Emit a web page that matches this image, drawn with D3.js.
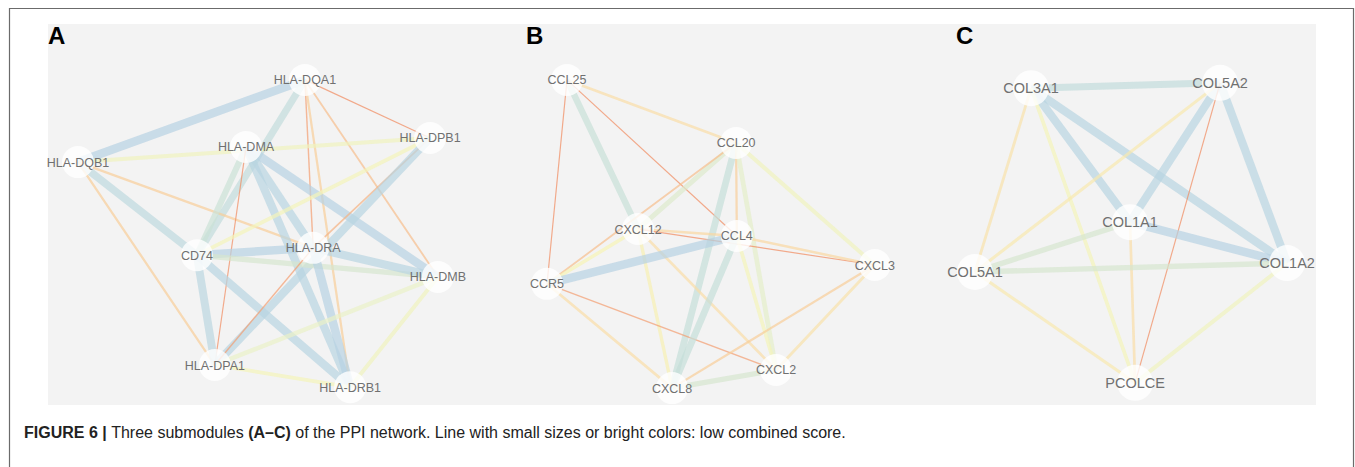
<!DOCTYPE html>
<html>
<head>
<meta charset="utf-8">
<script src="https://cdn.jsdelivr.net/npm/d3@7"></script>
<style>
  body { margin: 0; background: #fff; }
  svg { display: block; font-family: "Liberation Sans", Arial, sans-serif; }
</style>
</head>
<body>
<svg id="fig" width="1355" height="467"></svg>
<script>
// layout positions are in panel units (0-100), scores are STRING combined scores
var nodesA = [
    ["HLA-DQA1", 62.8, 3.0], ["HLA-DPB1", 94.9, 20.6], ["HLA-DQB1", 4.6, 27.9],
    ["HLA-DMA", 47.7, 23.3], ["CD74", 35.1, 56.1], ["HLA-DRA", 64.9, 53.9],
    ["HLA-DMB", 96.9, 62.7], ["HLA-DPA1", 39.7, 89.4], ["HLA-DRB1", 74.4, 96.1]
]
var edgesA = [
    ["HLA-DQA1", "HLA-DQB1", 0.999], ["HLA-DQA1", "CD74", 0.95], ["HLA-DQA1", "HLA-DPB1", 0.42],
    ["HLA-DQA1", "HLA-DRA", 0.45], ["HLA-DQA1", "HLA-DRB1", 0.55], ["HLA-DQA1", "HLA-DMB", 0.5],
    ["HLA-DQB1", "HLA-DPB1", 0.75], ["HLA-DQB1", "CD74", 0.97], ["HLA-DQB1", "HLA-DRA", 0.55],
    ["HLA-DQB1", "HLA-DPA1", 0.55], ["HLA-DMA", "CD74", 0.92], ["HLA-DMA", "HLA-DRA", 0.99],
    ["HLA-DMA", "HLA-DRB1", 0.99], ["HLA-DMA", "HLA-DMB", 0.999], ["HLA-DMA", "HLA-DPA1", 0.42],
    ["HLA-DPB1", "CD74", 0.72], ["HLA-DPB1", "HLA-DRA", 0.48], ["HLA-DPB1", "HLA-DPA1", 0.99],
    ["CD74", "HLA-DRA", 0.999], ["CD74", "HLA-DMB", 0.88], ["CD74", "HLA-DPA1", 0.98],
    ["CD74", "HLA-DRB1", 0.99], ["HLA-DRA", "HLA-DMB", 0.99], ["HLA-DRA", "HLA-DRB1", 0.999],
    ["HLA-DRA", "HLA-DPA1", 0.45], ["HLA-DMB", "HLA-DPA1", 0.8], ["HLA-DMB", "HLA-DRB1", 0.75],
    ["HLA-DPA1", "HLA-DRB1", 0.72]
]

var nodesB = [
    ["CCL25", 10.0, 3.0], ["CCL20", 55.7, 22.1], ["CXCL12", 29.2, 48.2], ["CCL4", 55.9, 50.3],
    ["CXCL3", 93.2, 59.1], ["CCR5", 4.6, 64.8], ["CXCL2", 66.5, 90.9], ["CXCL8", 38.4, 96.4]
]
var edgesB = [
    ["CCL25", "CCL20", 0.6], ["CCL25", "CXCL12", 0.93], ["CCL25", "CCL4", 0.42], ["CCL25", "CCR5", 0.42],
    ["CCL20", "CXCL12", 0.85], ["CCL20", "CCR5", 0.5], ["CCL20", "CXCL8", 0.94], ["CCL20", "CCL4", 0.55],
    ["CCL20", "CXCL2", 0.82], ["CCL20", "CXCL3", 0.75], ["CXCL12", "CCL4", 0.58], ["CXCL12", "CXCL3", 0.42],
    ["CXCL12", "CCR5", 0.7], ["CXCL12", "CXCL8", 0.68], ["CXCL12", "CXCL2", 0.6], ["CCR5", "CCL4", 0.999],
    ["CCR5", "CXCL8", 0.6], ["CCR5", "CXCL2", 0.45], ["CCL4", "CXCL3", 0.58], ["CCL4", "CXCL8", 0.94],
    ["CCL4", "CXCL2", 0.72], ["CXCL3", "CXCL8", 0.55], ["CXCL3", "CXCL2", 0.62], ["CXCL2", "CXCL8", 0.88]
]

var nodesC = [
    ["COL3A1", 20.9, 5.5], ["COL5A2", 76.5, 3.9], ["COL1A1", 50.0, 46.1],
    ["COL1A2", 96.2, 58.5], ["COL5A1", 4.4, 61.2], ["PCOLCE", 51.5, 94.8]
]
var edgesC = [
    ["COL3A1", "COL5A2", 0.95], ["COL3A1", "COL1A1", 0.99], ["COL3A1", "COL1A2", 0.99],
    ["COL3A1", "COL5A1", 0.62], ["COL3A1", "PCOLCE", 0.72], ["COL5A2", "COL1A1", 0.99],
    ["COL5A2", "COL1A2", 0.99], ["COL5A2", "COL5A1", 0.65], ["COL5A2", "PCOLCE", 0.42],
    ["COL1A1", "COL1A2", 0.999], ["COL1A1", "COL5A1", 0.88], ["COL1A1", "PCOLCE", 0.6],
    ["COL1A2", "COL5A1", 0.88], ["COL1A2", "PCOLCE", 0.75], ["COL5A1", "PCOLCE", 0.65]
]

var panelLetters = ["A", "B", "C"]
var caption = [
    ["FIGURE 6 | ", true], ["Three submodules ", false], ["(A–C)", true],
    [" of the PPI network. Line with small sizes or bright colors: low combined score.", false]
]

var svg = d3.select("#fig")

// outer frame (open at the bottom)
svg.append("path")
    .attr("d", "M9.5,467 V8.5 H1353.5 V467")
    .attr("fill", "none")
    .attr("stroke", "#6b6b6b")
    .attr("stroke-width", 1.2)

svg.append("rect")
    .attr("x", 48).attr("y", 24)
    .attr("width", 1268).attr("height", 381)
    .attr("fill", "#f3f3f3")

var colorScale = d3.scaleLinear()
    .domain([0.4, 0.5, 0.6, 0.7, 0.8, 0.88, 0.94, 1.0])
    .range(["#ef7c52", "#f7bd8b", "#f9dda7", "#f6f3b5", "#e9f1c7", "#d5e6cf", "#c4ded9", "#b6d2e3"])
var widthScale = d3.scaleLinear()
    .domain([0.4, 0.7, 0.9, 1.0])
    .range([1, 3.5, 5.5, 8.5])

var panels = [
    { nodes: nodesA, edges: edgesA, x: [60, 450], y: [70, 400], r: 16, font: 12.5, letterX: 48 },
    { nodes: nodesB, edges: edgesB, x: [530, 900], y: [70, 400], r: 16, font: 12.5, letterX: 526 },
    { nodes: nodesC, edges: edgesC, x: [960, 1300], y: [70, 400], r: 18, font: 14.5, letterX: 956 }
]

panels.forEach(function (p, i) {
    var xScale = d3.scaleLinear().domain([0, 100]).range(p.x)
    var yScale = d3.scaleLinear().domain([0, 100]).range(p.y)
    var pos = new Map(p.nodes.map(d => [d[0], d]))
    var g = svg.append("g")

    g.selectAll("line")
        .data(p.edges)
        .enter()
        .append("line")
        .attr("x1", d => xScale(pos.get(d[0])[1]))
        .attr("y1", d => yScale(pos.get(d[0])[2]))
        .attr("x2", d => xScale(pos.get(d[1])[1]))
        .attr("y2", d => yScale(pos.get(d[1])[2]))
        .attr("stroke", d => colorScale(d[2]))
        .attr("stroke-width", d => widthScale(d[2]))
        .attr("stroke-opacity", 0.7)

    g.selectAll("circle")
        .data(p.nodes)
        .enter()
        .append("circle")
        .attr("cx", d => xScale(d[1]))
        .attr("cy", d => yScale(d[2]))
        .attr("r", p.r)
        .attr("fill", "#ffffff")
        .attr("fill-opacity", 0.8)

    g.selectAll("text")
        .data(p.nodes)
        .enter()
        .append("text")
        .attr("x", d => xScale(d[1]))
        .attr("y", d => yScale(d[2]))
        .attr("dy", "0.36em")
        .attr("text-anchor", "middle")
        .style("font-size", p.font + "px")
        .style("fill", "#707070")
        .text(d => d[0])

    svg.append("text")
        .attr("x", p.letterX)
        .attr("y", 44)
        .style("font-size", "24px")
        .style("font-weight", "bold")
        .style("fill", "#000")
        .text(panelLetters[i])
})

var cap = svg.append("text")
    .attr("x", 24)
    .attr("y", 438)
    .style("font-size", "16px")
    .style("fill", "#222")
cap.selectAll("tspan")
    .data(caption)
    .enter()
    .append("tspan")
    .style("font-weight", d => d[1] ? "bold" : "normal")
    .text(d => d[0])
</script>
</body>
</html>
